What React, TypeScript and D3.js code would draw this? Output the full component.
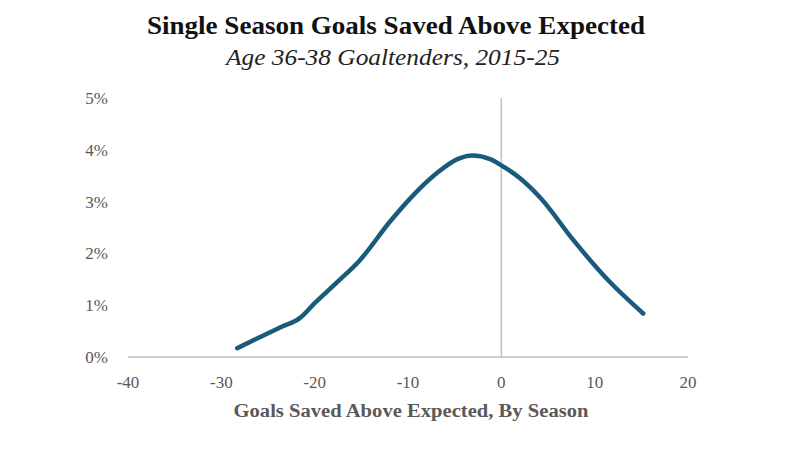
import React from "react";
import * as d3 from "d3";

const gsaxValues = [-28.3, -26.0, -23.6, -21.6, -20.0, -17.5, -15.2, -11.9, -9.4, -6.9, -4.7, -3.1, -1.2, 0, 2.0, 4.2, 7.7, 11.4, 15.2];
const shareValues = [0.17, 0.37, 0.58, 0.75, 1.04, 1.46, 1.86, 2.62, 3.13, 3.55, 3.82, 3.89, 3.82, 3.7, 3.45, 3.07, 2.26, 1.49, 0.84];
const xTicks = [-40, -30, -20, -10, 0, 10, 20];
const yTicks = [0, 1, 2, 3, 4, 5];

const title = "Single Season Goals Saved Above Expected";
const subtitle = "Age 36-38 Goaltenders, 2015-25";
const xTitle = "Goals Saved Above Expected, By Season";

export default function App() {
  const W = 800, H = 449;
  const x = d3.scaleLinear().domain([-40, 20]).range([128, 688]);
  const y = d3.scaleLinear().domain([0, 5]).range([357, 98]);
  const pts = gsaxValues.map((v, i) => [v, shareValues[i]] as [number, number]);
  const line = d3.line<[number, number]>()
    .x(d => x(d[0]))
    .y(d => y(d[1]))
    .curve(d3.curveMonotoneX);
  const serif = "'Liberation Serif', 'DejaVu Serif', serif";
  return (
    <svg width={W} height={H} style={{ position: "absolute", left: 0, top: 0, background: "#fff" }}>
      <rect width={W} height={H} fill="#fff" />
      <text x={396} y={34} textAnchor="middle" fontFamily={serif} fontWeight="bold" fontSize={25} fill="#111" textLength={498} lengthAdjust="spacingAndGlyphs">{title}</text>
      <text x={393} y={65} textAnchor="middle" fontFamily={serif} fontStyle="italic" fontSize={24} fill="#222" textLength={334} lengthAdjust="spacingAndGlyphs">{subtitle}</text>
      <line x1={x(-40)} x2={x(20)} y1={y(0)} y2={y(0)} stroke="#bfbfbf" strokeWidth={1.5} />
      <line x1={x(0)} x2={x(0)} y1={y(0)} y2={y(5)} stroke="#bfbfbf" strokeWidth={1.5} />
      {yTicks.map(t => (
        <text key={t} x={108} y={y(t) + 6} textAnchor="end" fontFamily={serif} fontSize={17} fill="#595959">{t + "%"}</text>
      ))}
      {xTicks.map(t => (
        <text key={t} x={x(t)} y={388} textAnchor="middle" fontFamily={serif} fontSize={17} fill="#595959">{t}</text>
      ))}
      <text x={411} y={417} textAnchor="middle" fontFamily={serif} fontWeight="bold" fontSize={18} fill="#595959" textLength={355} lengthAdjust="spacingAndGlyphs">{xTitle}</text>
      <path d={line(pts) || ""} fill="none" stroke="#1a5a7a" strokeWidth={4.5} strokeLinecap="round" strokeLinejoin="round" />
    </svg>
  );
}
